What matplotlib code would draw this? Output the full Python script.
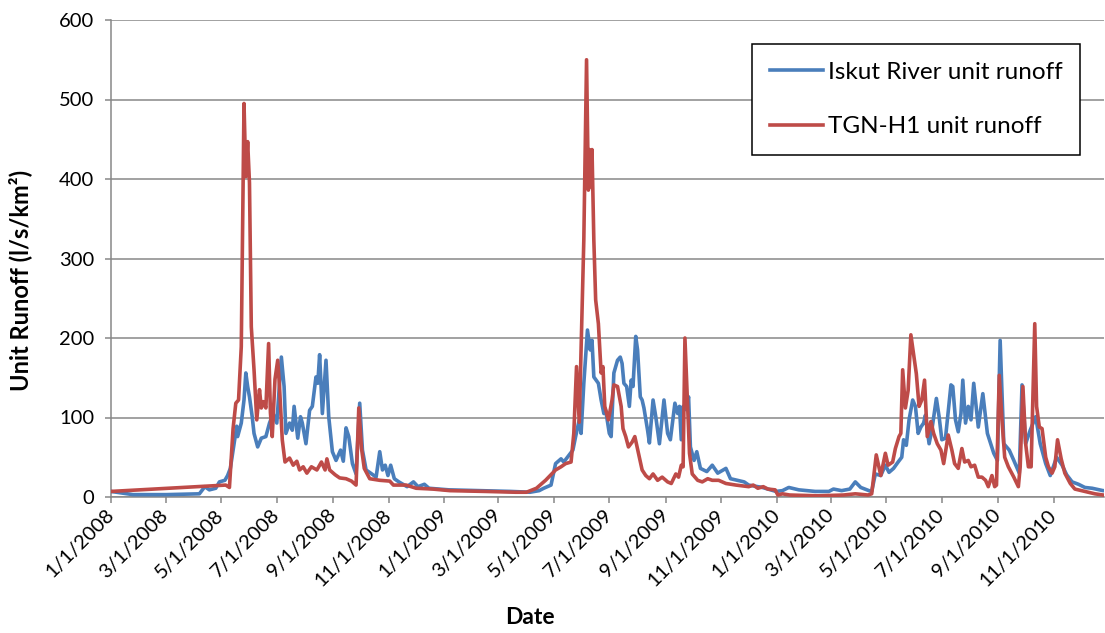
import matplotlib
matplotlib.use("Agg")
import matplotlib.pyplot as plt
import pandas as pd

BLUE = "#4A7EBB"
RED = "#BE4B48"
GRID = "#878787"

plt.rcParams["font.family"] = ["Lato", "DejaVu Sans"]

# Iskut River unit runoff (l/s/km2)
iskut_dates = [
    "2008-01-01", "2008-01-25", "2008-03-02", "2008-04-07", "2008-04-13", "2008-04-18",
    "2008-04-25", "2008-04-29", "2008-05-05", "2008-05-08", "2008-05-11", "2008-05-14",
    "2008-05-18", "2008-05-19", "2008-05-23", "2008-05-26", "2008-05-28", "2008-05-30",
    "2008-06-01", "2008-06-04", "2008-06-06", "2008-06-10", "2008-06-14", "2008-06-19",
    "2008-06-23", "2008-06-27", "2008-07-01", "2008-07-06", "2008-07-09", "2008-07-11",
    "2008-07-15", "2008-07-18", "2008-07-20", "2008-07-24", "2008-07-27", "2008-07-29",
    "2008-08-02", "2008-08-06", "2008-08-09", "2008-08-13", "2008-08-15", "2008-08-17",
    "2008-08-20", "2008-08-24", "2008-08-27", "2008-08-31", "2008-09-04", "2008-09-09",
    "2008-09-12", "2008-09-15", "2008-09-18", "2008-09-22", "2008-09-26", "2008-09-30",
    "2008-10-03", "2008-10-07", "2008-10-12", "2008-10-18", "2008-10-22", "2008-10-25",
    "2008-10-28", "2008-10-31", "2008-11-03", "2008-11-07", "2008-11-12", "2008-11-21",
    "2008-11-28", "2008-12-03", "2008-12-10", "2008-12-15",
    "2009-01-06", "2009-02-10", "2009-03-15", "2009-04-05", "2009-04-15", "2009-04-20",
    "2009-04-28", "2009-05-03", "2009-05-09", "2009-05-12", "2009-05-18", "2009-05-22",
    "2009-05-25", "2009-05-29", "2009-05-31", "2009-06-03", "2009-06-07", "2009-06-10",
    "2009-06-12", "2009-06-14", "2009-06-19", "2009-06-22", "2009-06-25", "2009-06-27",
    "2009-07-01", "2009-07-03", "2009-07-06", "2009-07-10", "2009-07-13", "2009-07-15",
    "2009-07-17", "2009-07-20", "2009-07-23", "2009-07-25", "2009-07-27", "2009-07-30",
    "2009-08-01", "2009-08-04", "2009-08-06", "2009-08-08", "2009-08-12", "2009-08-14",
    "2009-08-18", "2009-08-21", "2009-08-25", "2009-08-30", "2009-09-03", "2009-09-06",
    "2009-09-11", "2009-09-14", "2009-09-16", "2009-09-18", "2009-09-20", "2009-09-23",
    "2009-09-26", "2009-09-28", "2009-10-02", "2009-10-05", "2009-10-09", "2009-10-16",
    "2009-10-22", "2009-10-28", "2009-11-06", "2009-11-11", "2009-11-26", "2009-12-01",
    "2009-12-16", "2009-12-31",
    "2010-01-07", "2010-01-14", "2010-01-25", "2010-02-12", "2010-02-27", "2010-03-04",
    "2010-03-13", "2010-03-22", "2010-03-28", "2010-04-03", "2010-04-12", "2010-04-15",
    "2010-04-19", "2010-04-25", "2010-04-30", "2010-05-04", "2010-05-09", "2010-05-14",
    "2010-05-18", "2010-05-20", "2010-05-23", "2010-05-26", "2010-05-30", "2010-06-02",
    "2010-06-05", "2010-06-08", "2010-06-11", "2010-06-13", "2010-06-17", "2010-06-20",
    "2010-06-25", "2010-06-28", "2010-07-01", "2010-07-05", "2010-07-11", "2010-07-13",
    "2010-07-16", "2010-07-19", "2010-07-22", "2010-07-24", "2010-07-27", "2010-07-30",
    "2010-08-02", "2010-08-05", "2010-08-10", "2010-08-15", "2010-08-20", "2010-08-27",
    "2010-08-31", "2010-09-03", "2010-09-07", "2010-09-13", "2010-09-18", "2010-09-24",
    "2010-09-27", "2010-10-01", "2010-10-06", "2010-10-12", "2010-10-17", "2010-10-23",
    "2010-10-28", "2010-11-04", "2010-11-10", "2010-11-15", "2010-11-21", "2010-11-28",
    "2010-12-05", "2010-12-13", "2010-12-25", "2010-12-31",
]
iskut_runoff = [
    7, 3, 3, 4, 13, 9,
    11, 19, 21, 27, 36, 59,
    89, 76, 93, 122, 156, 139,
    126, 101, 80, 63, 74, 76,
    93, 105, 93, 176, 139, 80,
    93, 84, 114, 74, 101, 93,
    67, 109, 114, 151, 143, 179,
    105, 172, 101, 57, 46, 59,
    45, 87, 76, 42, 29, 118,
    59, 34, 30, 25, 57, 34,
    40, 27, 40, 23, 19, 13,
    19, 13, 16, 11,
    9, 8, 7, 6, 8, 11,
    15, 42, 48, 44, 53, 59,
    76, 97, 80, 143, 210, 185,
    197, 151, 143, 122, 105, 109,
    80, 76, 156, 172, 176, 168,
    143, 139, 114, 147, 139, 202,
    185, 126, 122, 112, 84, 68,
    122, 101, 67, 122, 80, 72,
    118, 105, 114, 72, 114, 110,
    126, 63, 46, 57, 36, 32,
    40, 30, 36, 23, 19, 15,
    12, 7,
    8, 12, 9, 7, 7, 10,
    8, 10, 19, 12, 8, 7,
    29, 27, 40, 31, 36, 44,
    50, 72, 65, 97, 122, 114,
    80, 88, 93, 103, 67, 84,
    124, 101, 72, 74, 141, 139,
    97, 82, 105, 147, 93, 114,
    97, 143, 88, 130, 80, 55,
    46, 197, 67, 59, 46, 30,
    141, 67, 84, 101, 67, 42,
    27, 50, 40, 28, 19, 16,
    12, 11, 8, 8,
]

# TGN-H1 unit runoff (l/s/km2)
tgn_dates = [
    "2008-01-01", "2008-05-06", "2008-05-10", "2008-05-14", "2008-05-17", "2008-05-20",
    "2008-05-23", "2008-05-26", "2008-05-28", "2008-05-30", "2008-06-01", "2008-06-03",
    "2008-06-06", "2008-06-09", "2008-06-12", "2008-06-14", "2008-06-16", "2008-06-19",
    "2008-06-22", "2008-06-24", "2008-06-26", "2008-06-29", "2008-07-02", "2008-07-04",
    "2008-07-07", "2008-07-10", "2008-07-15", "2008-07-19", "2008-07-23", "2008-07-26",
    "2008-07-30", "2008-08-03", "2008-08-08", "2008-08-14", "2008-08-19", "2008-08-23",
    "2008-08-25", "2008-08-28", "2008-09-03", "2008-09-08", "2008-09-15", "2008-09-21",
    "2008-09-26", "2008-09-29", "2008-10-02", "2008-10-05", "2008-10-11", "2008-10-22",
    "2008-11-02", "2008-11-06", "2008-11-20", "2008-12-01", "2008-12-19",
    "2009-01-07", "2009-02-15", "2009-03-20", "2009-04-01", "2009-04-12", "2009-04-22",
    "2009-05-03", "2009-05-09", "2009-05-14", "2009-05-20", "2009-05-23", "2009-05-26",
    "2009-05-29", "2009-06-03", "2009-06-06", "2009-06-08", "2009-06-09", "2009-06-11",
    "2009-06-12", "2009-06-14", "2009-06-16", "2009-06-19", "2009-06-22", "2009-06-24",
    "2009-06-26", "2009-06-30", "2009-07-04", "2009-07-06", "2009-07-10", "2009-07-14",
    "2009-07-16", "2009-07-19", "2009-07-22", "2009-07-26", "2009-07-29", "2009-08-02",
    "2009-08-06", "2009-08-10", "2009-08-14", "2009-08-18", "2009-08-23", "2009-08-28",
    "2009-09-03", "2009-09-07", "2009-09-12", "2009-09-15", "2009-09-18", "2009-09-20",
    "2009-09-22", "2009-09-25", "2009-09-27", "2009-09-30", "2009-10-06", "2009-10-11",
    "2009-10-17", "2009-10-22", "2009-10-29", "2009-11-06", "2009-11-17", "2009-12-01",
    "2009-12-06", "2009-12-11", "2009-12-17", "2009-12-22", "2009-12-30",
    "2010-01-02", "2010-01-07", "2010-01-15", "2010-02-15", "2010-03-15", "2010-03-28",
    "2010-04-11", "2010-04-15", "2010-04-20", "2010-04-25", "2010-04-30", "2010-05-03",
    "2010-05-08", "2010-05-11", "2010-05-15", "2010-05-17", "2010-05-19", "2010-05-22",
    "2010-05-25", "2010-05-28", "2010-05-31", "2010-06-03", "2010-06-06", "2010-06-09",
    "2010-06-12", "2010-06-15", "2010-06-19", "2010-06-22", "2010-06-26", "2010-06-30",
    "2010-07-03", "2010-07-08", "2010-07-12", "2010-07-15", "2010-07-19", "2010-07-23",
    "2010-07-26", "2010-07-30", "2010-08-02", "2010-08-06", "2010-08-10", "2010-08-14",
    "2010-08-18", "2010-08-21", "2010-08-25", "2010-08-28", "2010-08-30", "2010-09-02",
    "2010-09-05", "2010-09-08", "2010-09-12", "2010-09-18", "2010-09-23", "2010-09-25",
    "2010-09-28", "2010-10-01", "2010-10-04", "2010-10-07", "2010-10-11", "2010-10-13",
    "2010-10-16", "2010-10-19", "2010-10-23", "2010-10-26", "2010-10-30", "2010-11-02",
    "2010-11-05", "2010-11-09", "2010-11-13", "2010-11-19", "2010-11-24", "2010-12-05",
    "2010-12-16", "2010-12-25", "2010-12-31",
]
tgn_runoff = [
    7, 15, 12, 86, 118, 122,
    189, 495, 403, 447, 395, 214,
    160, 97, 135, 112, 120, 112,
    193, 106, 76, 148, 172, 138,
    72, 44, 49, 40, 45, 34,
    38, 30, 38, 34, 44, 34,
    48, 34, 28, 24, 23, 20,
    15, 112, 61, 36, 23, 21,
    20, 15, 15, 11, 10,
    8, 7, 6, 6, 11, 21,
    34, 38, 42, 44, 80, 164,
    94, 323, 550, 386, 437, 390,
    437, 323, 248, 218, 156, 164,
    114, 97, 122, 141, 139, 114,
    86, 76, 63, 69, 76, 55,
    34, 27, 23, 29, 21, 25,
    19, 17, 29, 25, 40, 38,
    200, 114, 55, 29, 21, 19,
    23, 21, 21, 17, 15, 13,
    15, 11, 13, 10, 9,
    2.5, 4, 2.5, 1.5, 2.5, 4,
    2.5, 4, 53, 27, 55, 40,
    44, 61, 76, 80, 160, 112,
    134, 204, 179, 155, 114, 122,
    147, 76, 95, 80, 67, 59,
    42, 78, 59, 42, 36, 61,
    44, 46, 38, 40, 25, 25,
    21, 13, 27, 13, 15, 153,
    97, 50, 38, 25, 13, 38,
    139, 67, 38, 38, 218, 114,
    88, 86, 50, 38, 30, 38,
    72, 48, 30, 17, 10, 7,
    4, 2.5, 2,
]

tick_dates = pd.date_range("2008-01-01", "2010-11-01", freq="2MS")
tick_labels = [f"{d.month}/{d.day}/{d.year}" for d in tick_dates]

fig = plt.figure(figsize=(11.05, 6.33), dpi=100, facecolor="white")
ax = fig.add_axes([111 / 1105, 136 / 633, 993 / 1105, 477 / 633])

ax.plot(pd.to_datetime(iskut_dates), iskut_runoff, color=BLUE, lw=2.6,
        label="Iskut River unit runoff", zorder=3)
ax.plot(pd.to_datetime(tgn_dates), tgn_runoff, color=RED, lw=2.6,
        label="TGN-H1 unit runoff", zorder=4)

ax.set_xlim(pd.Timestamp("2008-01-01"), pd.Timestamp("2010-12-26"))
ax.set_ylim(0, 600)
ax.set_yticks(range(0, 601, 100))
ax.set_xticks(tick_dates)
ax.set_xticklabels(tick_labels, rotation=45, ha="right", va="center",
                   rotation_mode="anchor")

ax.yaxis.grid(True, color=GRID, linewidth=1.1, zorder=0)
ax.set_axisbelow(True)
for side in ["top", "right"]:
    ax.spines[side].set_visible(False)
for side in ["left", "bottom"]:
    ax.spines[side].set_color(GRID)
    ax.spines[side].set_linewidth(1.1)
ax.tick_params(axis="both", direction="out", length=4, width=1.1, color=GRID,
               labelsize=14.5, labelcolor="black")
ax.tick_params(axis="x", pad=7)
ax.tick_params(axis="y", pad=8)

fig.text(20 / 1105, 1 - 280 / 633, "Unit Runoff (l/s/km²)", rotation=90,
         ha="center", va="center", fontsize=17, fontweight="bold")
fig.text(530 / 1105, 1 - 617 / 633, "Date", ha="center", va="center",
         fontsize=16.5, fontweight="bold")

leg = ax.legend(loc="upper right", bbox_to_anchor=(0.9758, 0.9497), fontsize=17.5,
                frameon=True, fancybox=False, edgecolor="black", framealpha=1,
                handlelength=2.2, handletextpad=0.2, labelspacing=1.39,
                borderpad=0.72, borderaxespad=0)
leg.get_frame().set_linewidth(1.1)

fig.savefig("out.png", dpi=100, facecolor="white")
